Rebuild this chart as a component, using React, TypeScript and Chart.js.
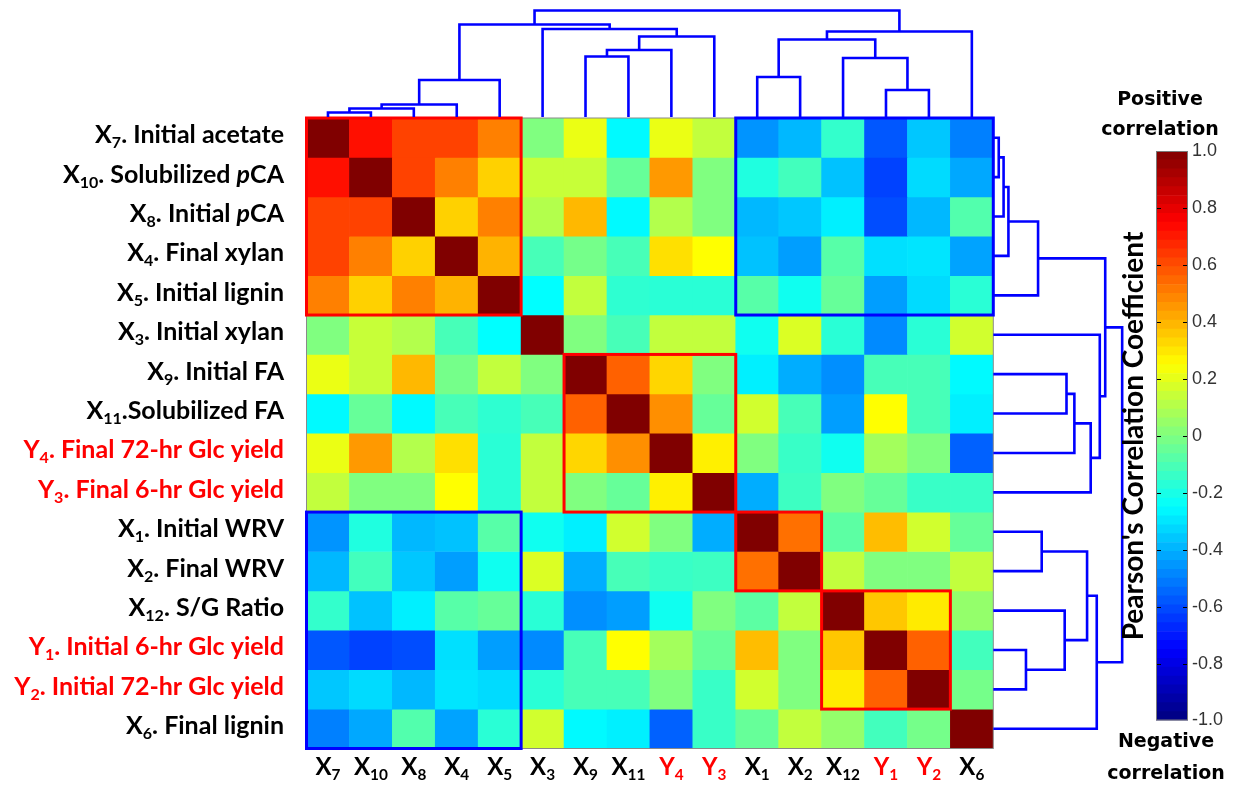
import React, { useEffect, useRef } from 'react';
import { Chart, registerables } from 'chart.js';

Chart.register(...registerables);

const PAGE_W = 1237;
const PAGE_H = 785;

// Pixel frame of the correlation map
const MAP_LEFT = 306.5;
const MAP_RIGHT = 993.3;
const MAP_TOP = 118;
const MAP_BOTTOM = 748.5;

// Pixel frame of the colour bar
const BAR_LEFT = 1156;
const BAR_RIGHT = 1188;
const BAR_TOP = 151;
const BAR_BOTTOM = 720.5;

// Variables in clustered order (rows top to bottom, columns left to right)
const varCodes = ['X7', 'X10', 'X8', 'X4', 'X5', 'X3', 'X9', 'X11', 'Y4', 'Y3', 'X1', 'X2', 'X12', 'Y1', 'Y2', 'X6'];
const varNames = [
  '. Initial acetate',
  '. Solubilized *p*CA',
  '. Initial *p*CA',
  '. Final xylan',
  '. Initial lignin',
  '. Initial xylan',
  '. Initial FA',
  '.Solubilized FA',
  '. Final 72-hr Glc yield',
  '. Final 6-hr Glc yield',
  '. Initial WRV',
  '. Final WRV',
  '. S/G Ratio',
  '. Initial 6-hr Glc yield',
  '. Initial 72-hr Glc yield',
  '. Final lignin',
];

// Pearson correlation of each variable with every column variable
const rX7 = [1.0, 0.72, 0.62, 0.62, 0.5, 0.0, 0.21, -0.26, 0.21, 0.13, -0.46, -0.39, -0.15, -0.58, -0.36, -0.5];
const rX10 = [0.72, 1.0, 0.62, 0.5, 0.34, 0.14, 0.14, -0.05, 0.45, 0.0, -0.19, -0.12, -0.37, -0.62, -0.32, -0.42];
const rX8 = [0.62, 0.62, 1.0, 0.34, 0.5, 0.1, 0.39, -0.26, 0.1, 0.0, -0.39, -0.36, -0.28, -0.6, -0.39, -0.09];
const rX4 = [0.62, 0.5, 0.34, 1.0, 0.4, -0.11, -0.02, -0.11, 0.31, 0.25, -0.37, -0.44, -0.08, -0.31, -0.3, -0.43];
const rX5 = [0.5, 0.34, 0.5, 0.4, 1.0, -0.25, 0.13, -0.16, -0.17, -0.17, -0.08, -0.22, -0.05, -0.44, -0.32, -0.17];
const rX3 = [0.0, 0.14, 0.1, -0.11, -0.25, 1.0, 0.0, -0.11, 0.13, 0.13, -0.22, 0.18, -0.17, -0.48, -0.17, 0.16];
const rX9 = [0.21, 0.14, 0.39, -0.02, 0.13, 0.0, 1.0, 0.56, 0.33, 0.0, -0.28, -0.41, -0.47, -0.11, -0.11, -0.26];
const rX11 = [-0.26, -0.05, -0.26, -0.11, -0.16, -0.11, 0.56, 1.0, 0.47, -0.05, 0.16, -0.11, -0.44, 0.25, -0.11, -0.28];
const rY4 = [0.21, 0.45, 0.1, 0.31, -0.17, 0.13, 0.33, 0.47, 1.0, 0.28, 0.0, -0.14, -0.22, 0.07, 0.0, -0.56];
const rY3 = [0.13, 0.0, 0.0, 0.25, -0.17, 0.13, 0.0, -0.05, 0.28, 1.0, -0.41, -0.13, 0.0, -0.05, -0.14, -0.14];
const rX1 = [-0.46, -0.19, -0.39, -0.37, -0.08, -0.22, -0.28, 0.16, 0.0, -0.41, 1.0, 0.53, -0.07, 0.38, 0.16, -0.05];
const rX2 = [-0.39, -0.12, -0.36, -0.44, -0.22, 0.18, -0.41, -0.11, -0.14, -0.13, 0.53, 1.0, 0.13, 0.0, 0.0, 0.13];
const rX12 = [-0.15, -0.37, -0.28, -0.08, -0.05, -0.17, -0.47, -0.44, -0.22, 0.0, -0.07, 0.13, 1.0, 0.36, 0.29, 0.04];
const rY1 = [-0.58, -0.62, -0.6, -0.31, -0.44, -0.48, -0.11, 0.25, 0.07, -0.05, 0.38, 0.0, 0.36, 1.0, 0.56, -0.12];
const rY2 = [-0.36, -0.32, -0.39, -0.3, -0.32, -0.17, -0.11, -0.11, 0.0, -0.14, 0.16, 0.0, 0.29, 0.56, 1.0, -0.02];
const rX6 = [-0.5, -0.42, -0.09, -0.43, -0.17, 0.16, -0.26, -0.28, -0.56, -0.14, -0.05, 0.13, 0.04, -0.12, -0.02, 1.0];

const corrRows = [rX7, rX10, rX8, rX4, rX5, rX3, rX9, rX11, rY4, rY3, rX1, rX2, rX12, rY1, rY2, rX6];

// Hierarchical clustering: [left node, right node, linkage distance]
// nodes 0-15 are the variables above, node 16+k is the k-th merge
const linkage: [number, number, number][] = [
  [0, 1, 0.045],
  [16, 2, 0.085],
  [17, 3, 0.125],
  [18, 4, 0.37],
  [6, 7, 0.605],
  [20, 8, 0.67],
  [21, 9, 0.805],
  [5, 22, 0.88],
  [19, 23, 0.925],
  [10, 11, 0.4],
  [13, 14, 0.27],
  [12, 26, 0.59],
  [25, 27, 0.775],
  [28, 15, 0.855],
  [24, 29, 1.065],
];

// Highlighted blocks: [firstCol, lastCol, firstRow, lastRow]
const redBlocks: [number, number, number, number][] = [
  [0, 4, 0, 4],
  [6, 9, 6, 9],
  [10, 11, 10, 11],
  [12, 14, 12, 14],
];
const blueBlocks: [number, number, number, number][] = [
  [10, 15, 0, 4],
  [0, 4, 10, 15],
];

const colorbarTicks = [-1, -0.8, -0.6, -0.4, -0.2, 0, 0.2, 0.4, 0.6, 0.8, 1];
const COLORBAR_STEPS = 64;

const LABEL_FONT = 'Lato';
const BLACK = '#000000';
const RED = '#ff0000';
const BLUE = '#0000ff';

function clamp01(v: number) {
  return Math.max(0, Math.min(1, v));
}

function jet(v: number) {
  const t = (v + 1) / 2;
  const r = clamp01(1.5 - Math.abs(4 * t - 3));
  const g = clamp01(1.5 - Math.abs(4 * t - 2));
  const b = clamp01(1.5 - Math.abs(4 * t - 1));
  return `rgb(${Math.round(r * 255)},${Math.round(g * 255)},${Math.round(b * 255)})`;
}

type Seg = { text: string; sub: boolean; italic: boolean };

function labelSegments(code: string, name: string): Seg[] {
  const segs: Seg[] = [
    { text: code[0], sub: false, italic: false },
    { text: code.slice(1), sub: true, italic: false },
  ];
  name.split('*').forEach((part, i) => {
    if (part) segs.push({ text: part, sub: false, italic: i % 2 === 1 });
  });
  return segs;
}

function drawRich(
  ctx: CanvasRenderingContext2D,
  segs: Seg[],
  x: number,
  y: number,
  size: number,
  align: 'right' | 'center',
  color: string,
  weight: string
) {
  const fontOf = (s: Seg) =>
    `${s.italic ? 'italic ' : ''}${weight} ${s.sub ? size * 0.64 : size}px ${LABEL_FONT}`;
  const widths = segs.map((s) => {
    ctx.font = fontOf(s);
    return ctx.measureText(s.text).width;
  });
  const total = widths.reduce((a, b) => a + b, 0);
  let cx = align === 'right' ? x - total : x - total / 2;
  ctx.fillStyle = color;
  ctx.textAlign = 'left';
  ctx.textBaseline = 'alphabetic';
  segs.forEach((s, i) => {
    ctx.font = fontOf(s);
    ctx.fillText(s.text, cx, y + (s.sub ? size * 0.2 : 0));
    cx += widths[i];
  });
}

// Leaf/merge positions of the dendrogram (leaf i sits at the middle of cell i)
function dendrogramNodes() {
  const pos: number[] = varCodes.map((_, i) => i + 0.5);
  const hgt: number[] = varCodes.map(() => 0);
  linkage.forEach(([a, b, h]) => {
    pos.push((pos[a] + pos[b]) / 2);
    hgt.push(h);
  });
  return { pos, hgt };
}

const heatmapPlugin = {
  id: 'heatmapDecor',
  afterDatasetsDraw(chart: any) {
    const ctx: CanvasRenderingContext2D = chart.ctx;
    const xs = chart.scales.x;
    const ys = chart.scales.y;
    const cw = xs.getPixelForValue(1) - xs.getPixelForValue(0);
    const colLeft = (c: number) => xs.getPixelForValue(c) - cw / 2;
    const colRight = (c: number) => xs.getPixelForValue(c) + cw / 2;
    const { left, top, right, bottom } = chart.chartArea;
    ctx.save();
    ctx.strokeStyle = '#8a8a8a';
    ctx.lineWidth = 1;
    ctx.strokeRect(left, top, right - left, bottom - top);
    const drawBlock = (b: [number, number, number, number], color: string) => {
      const x0 = colLeft(b[0]);
      const x1 = colRight(b[1]);
      const y0 = ys.getPixelForValue(b[2]);
      const y1 = ys.getPixelForValue(b[3] + 1);
      ctx.strokeStyle = color;
      ctx.lineWidth = 3;
      ctx.strokeRect(x0, y0, x1 - x0, y1 - y0);
    };
    blueBlocks.forEach((b) => drawBlock(b, BLUE));
    redBlocks.forEach((b) => drawBlock(b, RED));
    ctx.restore();
  },
  afterDraw(chart: any) {
    const ctx: CanvasRenderingContext2D = chart.ctx;
    const xs = chart.scales.x;
    const ys = chart.scales.y;
    ctx.save();
    varCodes.forEach((code, i) => {
      const color = code[0] === 'Y' ? RED : BLACK;
      const yc = ys.getPixelForValue(i + 0.5);
      drawRich(ctx, labelSegments(code, varNames[i]), 284, yc + 5.5, 25, 'right', color, 'bold');
      const xc = xs.getPixelForValue(i);
      drawRich(ctx, labelSegments(code, ''), xc, 775, 24, 'center', color, 'bold');
    });
    ctx.restore();
  },
};

const colorbarPlugin = {
  id: 'colorbarDecor',
  afterDraw(chart: any) {
    const ctx: CanvasRenderingContext2D = chart.ctx;
    const ys = chart.scales.y;
    const { left, top, right, bottom } = chart.chartArea;
    ctx.save();
    ctx.strokeStyle = '#000000';
    ctx.lineWidth = 1;
    colorbarTicks.slice(1, -1).forEach((t) => {
      const y = Math.round(ys.getPixelForValue(t)) + 0.5;
      ctx.beginPath();
      ctx.moveTo(left, y);
      ctx.lineTo(left + 5, y);
      ctx.moveTo(right - 5, y);
      ctx.lineTo(right, y);
      ctx.stroke();
    });
    ctx.strokeStyle = '#7a7a7a';
    ctx.strokeRect(left + 0.5, top + 0.5, right - left - 1, bottom - top - 1);

    ctx.fillStyle = '#000000';
    ctx.textAlign = 'center';
    ctx.textBaseline = 'alphabetic';
    ctx.font = 'bold 19px "DejaVu Sans"';
    ctx.fillText('Positive', 1160, 105);
    ctx.fillText('correlation', 1160, 135);
    ctx.fillText('Negative', 1166, 747);
    ctx.fillText('correlation', 1166, 779);

    ctx.translate(1143, 436);
    ctx.rotate(-Math.PI / 2);
    ctx.font = `bold 28px ${LABEL_FONT}`;
    ctx.fillText("Pearson's Correlation Coefficient", 0, 0);
    ctx.restore();
  },
};

function heatmapConfig(): any {
  return {
    type: 'bar',
    data: {
      labels: varCodes,
      datasets: corrRows.map((row, r) => ({
        label: varCodes[r],
        data: row.map(() => [r, r + 1]),
        backgroundColor: row.map((v) => jet(v)),
        borderWidth: 0,
        grouped: false,
        barPercentage: 1,
        categoryPercentage: 1,
      })),
    },
    options: {
      responsive: false,
      animation: false,
      devicePixelRatio: 1,
      layout: {
        padding: {
          left: MAP_LEFT,
          right: PAGE_W - MAP_RIGHT,
          top: MAP_TOP,
          bottom: PAGE_H - MAP_BOTTOM,
        },
      },
      plugins: { legend: { display: false }, tooltip: { enabled: false } },
      scales: {
        x: { type: 'category', display: false, offset: true },
        y: { type: 'linear', display: false, min: 0, max: corrRows.length, reverse: true },
      },
    },
    plugins: [heatmapPlugin],
  };
}

function dendrogramDatasets(horizontal: boolean) {
  const { pos, hgt } = dendrogramNodes();
  const pt = (p: number, h: number) => (horizontal ? { x: p, y: h } : { x: h, y: p });
  return linkage.map(([a, b, h]) => ({
    data: [pt(pos[a], hgt[a]), pt(pos[a], h), pt(pos[b], h), pt(pos[b], hgt[b])],
    showLine: true,
    borderColor: BLUE,
    borderWidth: 2.6,
    pointRadius: 0,
    clip: false,
    tension: 0,
    borderJoinStyle: 'miter',
  }));
}

const TOP_PX_PER_UNIT = 100;
const SIDE_PX_PER_UNIT = 121;
const DIST_MAX = 1.1;

function topDendrogramConfig(): any {
  return {
    type: 'scatter',
    data: { datasets: dendrogramDatasets(true) },
    options: {
      responsive: false,
      animation: false,
      devicePixelRatio: 1,
      layout: {
        padding: {
          left: MAP_LEFT,
          right: PAGE_W - MAP_RIGHT,
          top: MAP_TOP - 1 - DIST_MAX * TOP_PX_PER_UNIT,
          bottom: PAGE_H - (MAP_TOP - 1),
        },
      },
      plugins: { legend: { display: false }, tooltip: { enabled: false } },
      scales: {
        x: { type: 'linear', display: false, min: 0, max: varCodes.length },
        y: { type: 'linear', display: false, min: 0, max: DIST_MAX },
      },
    },
  };
}

function sideDendrogramConfig(): any {
  return {
    type: 'scatter',
    data: { datasets: dendrogramDatasets(false) },
    options: {
      responsive: false,
      animation: false,
      devicePixelRatio: 1,
      layout: {
        padding: {
          left: MAP_RIGHT,
          right: PAGE_W - (MAP_RIGHT + DIST_MAX * SIDE_PX_PER_UNIT),
          top: MAP_TOP,
          bottom: PAGE_H - MAP_BOTTOM,
        },
      },
      plugins: { legend: { display: false }, tooltip: { enabled: false } },
      scales: {
        x: { type: 'linear', display: false, min: 0, max: DIST_MAX },
        y: { type: 'linear', display: false, min: 0, max: varCodes.length, reverse: true },
      },
    },
  };
}

function colorbarConfig(): any {
  const steps = Array.from({ length: COLORBAR_STEPS }, (_, k) => {
    const lo = -1 + (2 * k) / COLORBAR_STEPS;
    return { lo, hi: lo + 2 / COLORBAR_STEPS };
  });
  return {
    type: 'bar',
    data: {
      labels: [''],
      datasets: steps.map((s) => ({
        data: [[s.lo, s.hi]],
        backgroundColor: jet((s.lo + s.hi) / 2),
        borderWidth: 0,
        grouped: false,
        barPercentage: 1,
        categoryPercentage: 1,
      })),
    },
    options: {
      responsive: false,
      animation: false,
      devicePixelRatio: 1,
      layout: { padding: { left: BAR_LEFT, right: 0, top: BAR_TOP, bottom: PAGE_H - BAR_BOTTOM } },
      plugins: { legend: { display: false }, tooltip: { enabled: false } },
      scales: {
        x: { display: false },
        y: {
          type: 'linear',
          position: 'right',
          min: -1,
          max: 1,
          afterFit: (scale: any) => {
            scale.width = PAGE_W - BAR_RIGHT;
          },
          afterBuildTicks: (scale: any) => {
            scale.ticks = colorbarTicks.map((v) => ({ value: v }));
          },
          ticks: {
            padding: 4,
            color: '#333333',
            font: { family: '"Liberation Sans Narrow", "Liberation Sans"', size: 18 },
            callback: (v: number) => (Math.abs(v) < 1e-9 ? '0' : Number(v).toFixed(1)),
          },
          grid: { display: false, drawTicks: false },
          border: { display: false },
        },
      },
    },
    plugins: [colorbarPlugin],
  };
}

export default function App() {
  const mapRef = useRef<HTMLCanvasElement>(null);
  const topRef = useRef<HTMLCanvasElement>(null);
  const sideRef = useRef<HTMLCanvasElement>(null);
  const barRef = useRef<HTMLCanvasElement>(null);

  useEffect(() => {
    const charts: Chart[] = [];
    if (mapRef.current) charts.push(new Chart(mapRef.current, heatmapConfig()));
    if (topRef.current) charts.push(new Chart(topRef.current, topDendrogramConfig()));
    if (sideRef.current) charts.push(new Chart(sideRef.current, sideDendrogramConfig()));
    if (barRef.current) charts.push(new Chart(barRef.current, colorbarConfig()));
    return () => charts.forEach((c) => c.destroy());
  }, []);

  const layer: React.CSSProperties = { position: 'absolute', left: 0, top: 0 };
  return (
    <div style={{ position: 'absolute', left: 0, top: 0, width: PAGE_W, height: PAGE_H, background: '#ffffff' }}>
      <canvas ref={mapRef} width={PAGE_W} height={PAGE_H} style={layer} />
      <canvas ref={topRef} width={PAGE_W} height={PAGE_H} style={layer} />
      <canvas ref={sideRef} width={PAGE_W} height={PAGE_H} style={layer} />
      <canvas ref={barRef} width={PAGE_W} height={PAGE_H} style={layer} />
    </div>
  );
}
